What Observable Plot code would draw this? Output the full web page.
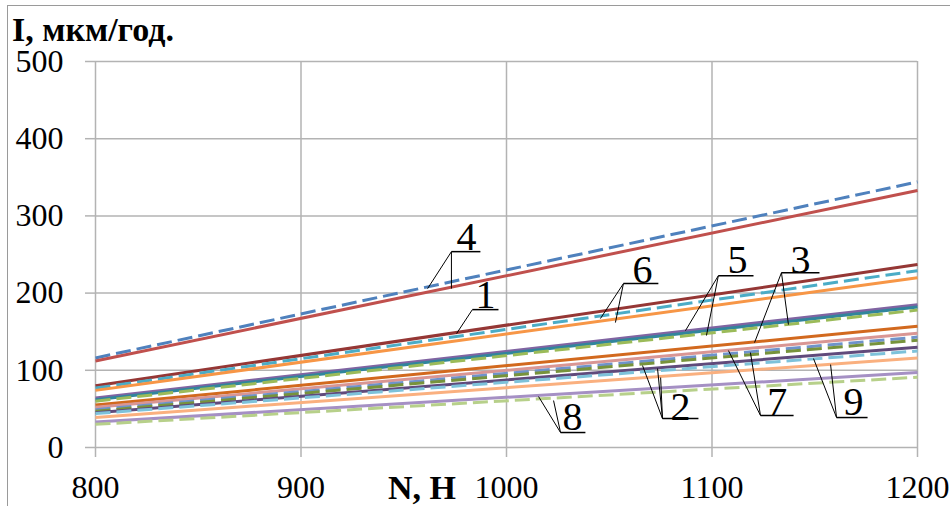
<!DOCTYPE html>
<html><head><meta charset="utf-8">
<script src="https://cdn.jsdelivr.net/npm/d3@7"></script>
<script src="https://cdn.jsdelivr.net/npm/@observablehq/plot@0.6"></script>
<style>
body{margin:0;background:#fff;}
#wrap{position:relative;width:950px;height:506px;overflow:hidden;font-family:"Liberation Serif","Times New Roman",serif;background:#fff;}
#frame{position:absolute;left:7px;top:5px;right:-10px;bottom:-10px;border-top:1.5px solid #9a9a9a;border-left:1.5px solid #9a9a9a;pointer-events:none;}
#title{position:absolute;left:12px;top:13px;font-weight:bold;font-size:34px;line-height:34px;white-space:nowrap;}
#xlabel{position:absolute;left:388px;top:471px;font-weight:bold;font-size:34px;line-height:34px;white-space:nowrap;}
#chart{position:absolute;left:0;top:0;}
#chart svg text{font-family:"Liberation Serif","Times New Roman",serif;}
</style></head>
<body>
<div id="wrap">
  <div id="chart"></div>
  <div id="frame"></div>
  <div id="title">I, мкм/год.</div>
  <div id="xlabel">N, H</div>
</div>
<script>
// ---- data ----
const xTicks = [800, 900, 1000, 1100, 1200];
const yTicks = [0, 100, 200, 300, 400, 500];
const loadN = [800, 1200];
const seriesIds   = ["4a","4b","1a","6a","6b","5a","1b","5b","3a","7a","7b","2a","9a","2b","9b","8a","8b"];
const valuesAt800  = [116, 112, 80, 77, 74, 64, 62, 60, 55, 52, 49, 47, 45, 44, 39, 33, 30];
const valuesAt1200 = [344, 333, 237, 229, 220, 185, 182, 178, 157, 148, 143, 139, 130, 125, 116, 97, 91];
const seriesColors = ["#4F81BD","#C0504D","#953735","#4BACC6","#F79646","#8064A2","#31859C","#9BBB59","#D2691E","#D99694","#6F93CA","#77933C","#604A7B","#7DC2DA","#FAB07F","#A590C4","#B7D08A"];
const seriesDashed = [true, false, false, true, false, false, false, true, false, false, true, true, false, true, false, false, true];

// annotation labels (data coordinates: N, I)
const labelText  = ["4","1","6","5","3","8","2","7","9"];
const labelN     = [980.5, 989.8, 1066.2, 1112.4, 1143.1, 1032.1, 1084.7, 1131.8, 1168.8];
const labelI     = [271.8, 196.7, 229.1, 242.0, 242.0, 38.8, 51.8, 58.2, 58.2];
const underN1    = [973.2, 983.4, 1056.9, 1103.1, 1133.8, 1026.3, 1075.9, 1123.6, 1160.6];
const underN2    = [987.3, 996.1, 1073.9, 1120.2, 1152.3, 1038.4, 1093.4, 1139.7, 1175.7];
const underI     = [253.7, 178.6, 212.3, 222.6, 226.5, 19.4, 37.5, 41.4, 38.8];
const leaderTips = [
  [[961.6, 205.8], [973.2, 205.8]],
  [[975.7, 147.6]],
  [[1045.7, 167.0], [1053.0, 161.8]],
  [[1087.1, 151.4], [1097.3, 145.0]],
  [[1120.7, 135.9], [1137.2, 159.2]],
  [[1015.6, 66.0], [1022.9, 60.8]],
  [[1066.2, 106.1], [1073.5, 102.3], [1075.0, 90.6]],
  [[1108.0, 125.6], [1118.7, 123.0]],
  [[1149.4, 115.2], [1157.7, 107.4]]
];

// ---- build tables ----
const rows = [];
seriesIds.forEach((id, i) => {
  rows.push({id, N: loadN[0], I: valuesAt800[i]});
  rows.push({id, N: loadN[1], I: valuesAt1200[i]});
});
const labels = labelText.map((t, i) => ({t, N: labelN[i], I: labelI[i], n1: underN1[i], n2: underN2[i], u: underI[i]}));
const leaders = [];
labels.forEach((l, i) => leaderTips[i].forEach(([n, v]) => leaders.push({x1: l.n1, y1: l.u, x2: n, y2: v})));

const lineMarks = seriesIds.map((id, i) =>
  Plot.line(rows.filter(r => r.id === id), {
    x: "N", y: "I", stroke: seriesColors[i], strokeWidth: 3,
    strokeDasharray: seriesDashed[i] ? "15,6" : null, strokeLinecap: "butt"
  })
);

const serif = "'Liberation Serif','Times New Roman',serif";
const grid = "#b3b3b3";
const chart = Plot.plot({
  width: 950, height: 506,
  marginLeft: 95, marginRight: 33, marginTop: 61, marginBottom: 59,
  style: {fontFamily: serif, fontSize: "32px", background: "transparent", color: "black"},
  x: {domain: [800, 1200]},
  y: {domain: [0, 500]},
  marks: [
    Plot.gridX(xTicks, {stroke: grid, strokeOpacity: 1, strokeWidth: 1.5}),
    Plot.gridY(yTicks, {stroke: grid, strokeOpacity: 1, strokeWidth: 1.5}),
    Plot.axisX({ticks: xTicks, tickSize: 10, tickPadding: 18, stroke: grid, strokeWidth: 1.5, fill: "black", fontSize: 32, fontFamily: serif, label: null, tickFormat: d => String(d)}),
    Plot.axisY({ticks: yTicks, tickSize: 10, tickPadding: 22, stroke: grid, strokeWidth: 1.5, fill: "black", fontSize: 32, fontFamily: serif, label: null, tickFormat: d => String(d)}),
    ...lineMarks,
    Plot.link(leaders, {x1: "x1", y1: "y1", x2: "x2", y2: "y2", stroke: "black", strokeWidth: 1}),
    Plot.link(labels, {x1: "n1", x2: "n2", y1: "u", y2: "u", stroke: "black", strokeWidth: 1.5}),
    Plot.text(labels, {x: "N", y: "I", text: "t", fontSize: 40, fontFamily: serif, lineAnchor: "middle", fill: "black"})
  ]
});
document.getElementById("chart").appendChild(chart);
</script>
</body></html>
